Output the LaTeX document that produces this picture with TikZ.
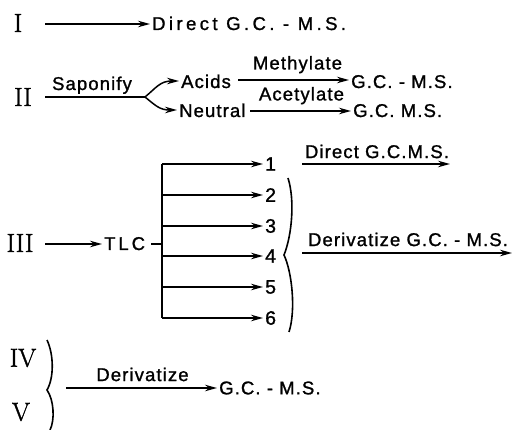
\documentclass[tikz,border=0pt]{standalone}
\usepackage{fontspec}
\newfontfamily\labfont[LetterSpace=6,FakeBold=1.2]{Liberation Sans}
\newfontfamily\widefont[LetterSpace=16,FakeBold=1.2]{Liberation Sans}
\newfontfamily\widerfont[LetterSpace=18.5,FakeBold=1.2]{Liberation Sans}
\newfontfamily\romfont[FakeBold=1.3]{Latin Modern Roman}
\usetikzlibrary{arrows.meta}
\begin{document}
\begin{tikzpicture}[x=1pt,y=-1pt,
  lab/.style={font=\labfont\fontsize{18.5}{20}\selectfont, inner sep=0pt},
  rom/.style={font=\romfont\fontsize{26}{28}\selectfont, inner sep=0pt},
  arr/.style={-{Stealth[length=12pt,width=6.5pt]}, line width=1.5pt, shorten >=2pt},
  ln/.style={line width=1.4pt}]
\useasboundingbox (0,0) rectangle (514,430);

% Row I
\node[rom] (r1) at (18,23) {I};
\node[lab,font=\widerfont\fontsize{18.5}{20}\selectfont,anchor=base west] (d1) at (152,30) {Direct G.C. - M.S.};
\coordinate (s1) at (45,24);
\draw[arr] (s1) -- (d1.west |- s1);

% Row II
\node[rom] (r2) at (23,97) {II};
\coordinate (s2) at (45,97);
\coordinate (b2) at (145,97);
\node[lab,anchor=base] (sap) at (92,90) {Saponify};
\draw[line width=2.6pt] (s2) -- (b2);
\node[lab,anchor=base west] (acids) at (181,88) {Acids};
\node[lab,anchor=base west] (neut) at (179,117) {Neutral};
\coordinate (ta) at (181,81);
\coordinate (tn) at (179,110);
\draw[arr] (b2) .. controls (156,88) and (160,81) .. (ta);
\draw[arr] (b2) .. controls (156,106) and (160,110) .. (tn);
\node[lab,anchor=base west] (gc2a) at (351,88) {G.C. - M.S.};
\node[lab,anchor=base west] (gc2b) at (353,117) {G.C. M.S.};
\coordinate (ma) at (238,80);
\coordinate (ae) at (250,111);
\draw[arr] (ma) -- (gc2a.west |- ma) node[lab,midway,above=6pt,xshift=3pt] (meth) {Methylate};
\draw[arr] (ae) -- (gc2b.west |- ae) node[lab,midway,above=6pt] (acet) {Acetylate};

% Row III
\node[rom] (r3) at (20,243) {III};
\coordinate (s3) at (45,244);
\node[lab,font=\widefont\fontsize{18.5}{20}\selectfont,anchor=base west] (tlc) at (104,250) {TLC};
\draw[arr] (s3) -- (tlc.west |- s3);
\coordinate (tk) at (151,244);
\coordinate (vt) at (162,164);
\coordinate (vb) at (162,318);
\draw[ln] (tk) -- (tk -| vt);
\draw[ln] (vt) -- (vb);
\foreach \i/\y in {1/164,2/195,3/226,4/256,5/287,6/318}{
  \node[lab,anchor=west,font=\labfont\fontsize{19.5}{21}\selectfont] (f\i) at (265,\y) {\i};
  \draw[arr] (162,\y) -- (f\i.west);
}
% brace 2-6
\draw[line width=1.6pt] (288,178) .. controls (295,200) and (292,235) .. (284,255)
  .. controls (292,272) and (296,310) .. (289,332);
\coordinate (dA) at (302,164);
\coordinate (dB) at (452,164);
\draw[arr] (dA) -- (dB) node[lab,midway,above=5pt] (dgc) {Direct G.C.M.S.};
\coordinate (eA) at (302,253);
\coordinate (eB) at (514,253);
\draw[arr] (eA) -- (eB) node[lab,midway,above=6pt] (egc) {Derivatize G.C. - M.S.};

% Rows IV, V
\node[rom] (r4) at (23,358) {IV};
\node[rom] (r5) at (21,412) {V};
\draw[line width=1.6pt] (47,340) .. controls (54,355) and (54,378) .. (47,390)
  .. controls (54,400) and (55,420) .. (50,430);
\coordinate (iA) at (66,388);
\node[lab,anchor=west] (gc4) at (219,388) {G.C. - M.S.};
\draw[arr] (iA) -- (gc4.west |- iA) node[lab,midway,above=6pt] (der) {Derivatize};
\end{tikzpicture}
\end{document}
